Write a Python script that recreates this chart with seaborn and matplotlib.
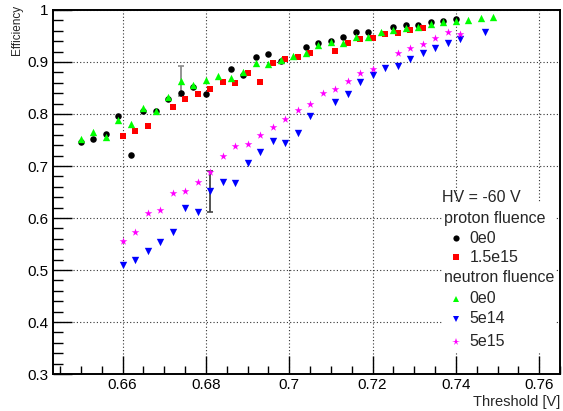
import numpy as np
import pandas as pd
import seaborn as sns
import matplotlib
matplotlib.use("Agg")
import matplotlib.pyplot as plt
from matplotlib.patches import Rectangle
from matplotlib.ticker import MultipleLocator, FixedLocator, FixedFormatter

# ---------------- data ----------------
# proton fluence 0e0 (black circles)
p0_x = [0.650, 0.653, 0.656, 0.659, 0.662, 0.665, 0.668, 0.671, 0.674, 0.677, 0.680,
        0.686, 0.689, 0.692, 0.695, 0.698, 0.704, 0.707, 0.710, 0.713, 0.716, 0.719,
        0.725, 0.728, 0.731, 0.734, 0.737, 0.740]
p0_y = [0.747, 0.752, 0.761, 0.797, 0.721, 0.806, 0.805, 0.829, 0.840, 0.851, 0.838,
        0.886, 0.875, 0.909, 0.915, 0.902, 0.929, 0.936, 0.941, 0.9475, 0.957, 0.957,
        0.9675, 0.971, 0.972, 0.976, 0.979, 0.983]

# proton fluence 1.5e15 (red squares)
p15_x = [0.660, 0.663, 0.666, 0.672, 0.675, 0.678, 0.681, 0.684, 0.687, 0.690, 0.693,
         0.696, 0.699, 0.702, 0.705, 0.711, 0.714, 0.717, 0.720, 0.723, 0.726, 0.729, 0.732]
p15_y = [0.758, 0.767, 0.776, 0.814, 0.828, 0.838, 0.849, 0.861, 0.860, 0.878, 0.862,
         0.899, 0.906, 0.909, 0.917, 0.921, 0.936, 0.944, 0.947, 0.953, 0.955, 0.962, 0.966]

# neutron fluence 0e0 (green up-triangles)
n0_x = [0.650, 0.653, 0.656, 0.659, 0.662, 0.665, 0.668, 0.671, 0.674, 0.677, 0.680,
        0.683, 0.686, 0.689, 0.692, 0.695, 0.698, 0.701, 0.704, 0.707, 0.710, 0.713,
        0.716, 0.719, 0.722, 0.725, 0.728, 0.731, 0.734, 0.737, 0.740, 0.743, 0.746, 0.749]
n0_y = [0.752, 0.765, 0.756, 0.788, 0.781, 0.811, 0.806, 0.833, 0.864, 0.855, 0.865,
        0.873, 0.869, 0.880, 0.898, 0.896, 0.903, 0.911, 0.918, 0.932, 0.939, 0.936,
        0.949, 0.949, 0.957, 0.961, 0.966, 0.968, 0.974, 0.976, 0.978, 0.981, 0.984, 0.987]

# neutron fluence 5e14 (blue down-triangles)
n514_x = [0.660, 0.663, 0.666, 0.669, 0.672, 0.675, 0.678, 0.681, 0.684, 0.687, 0.690,
          0.693, 0.696, 0.699, 0.702, 0.705, 0.711, 0.714, 0.717, 0.720, 0.723, 0.726,
          0.729, 0.732, 0.735, 0.738, 0.741, 0.747]
n514_y = [0.510, 0.519, 0.537, 0.554, 0.574, 0.620, 0.612, 0.651, 0.670, 0.667, 0.706,
          0.726, 0.749, 0.745, 0.763, 0.797, 0.823, 0.839, 0.862, 0.875, 0.888, 0.893,
          0.906, 0.917, 0.926, 0.937, 0.945, 0.958]

# neutron fluence 5e15 (magenta stars)
n515_x = [0.660, 0.663, 0.666, 0.669, 0.672, 0.675, 0.678, 0.681, 0.684, 0.687, 0.690,
          0.693, 0.696, 0.699, 0.702, 0.705, 0.708, 0.711, 0.714, 0.717, 0.720, 0.726,
          0.729, 0.732, 0.735, 0.738, 0.741]
n515_y = [0.556, 0.574, 0.610, 0.615, 0.648, 0.652, 0.670, 0.689, 0.720, 0.738, 0.742,
          0.760, 0.775, 0.791, 0.807, 0.820, 0.841, 0.849, 0.864, 0.878, 0.886, 0.917,
          0.926, 0.935, 0.946, 0.958, 0.954]

# representative error bars
err_x = [0.674, 0.681]
err_y = [0.864, 0.651]
err_e = [0.029, 0.039]
err_colors = ["#8a8a8a", "#444444"]

x_ticks = [0.66, 0.68, 0.70, 0.72, 0.74, 0.76]
x_tick_labels = ["0.66", "0.68", "0.7", "0.72", "0.74", "0.76"]
y_ticks = [0.3, 0.4, 0.5, 0.6, 0.7, 0.8, 0.9, 1.0]
y_tick_labels = ["0.3", "0.4", "0.5", "0.6", "0.7", "0.8", "0.9", "1"]

header_text = "HV = -60 V"
group_titles = ["proton fluence", "neutron fluence"]
series_labels = ["0e0", "1.5e15", "0e0", "5e14", "5e15"]

# ---------------- style ----------------
sns.set_theme(style="white")
plt.rcParams["font.family"] = ["Liberation Sans", "DejaVu Sans"]

W, H = 563, 411
fig = plt.figure(figsize=(W / 100, H / 100), dpi=100)
L, R, T, B = 53, 560, 10, 374
ax = fig.add_axes([L / W, 1 - B / H, (R - L) / W, (B - T) / H])
ax.set_facecolor("white")

series = [
    (p0_x, p0_y, "o", "black", 22),
    (p15_x, p15_y, "s", "#ff0000", 24),
    (n0_x, n0_y, "^", "#00ff00", 28),
    (n514_x, n514_y, "v", "#0000ff", 28),
    (n515_x, n515_y, "*", "#ff00ff", 34),
]

for i, (xs, ys, m, c, s) in enumerate(series):
    df = pd.DataFrame({"x": xs, "y": ys})
    sns.scatterplot(data=df, x="x", y="y", marker=m, color=c, s=s, linewidth=0,
                    ax=ax, zorder=3 + i, legend=False)

for ex, ey, ee, ec in zip(err_x, err_y, err_e, err_colors):
    ax.errorbar([ex], [ey], yerr=[ee], fmt="none", ecolor=ec, elinewidth=1.3,
                capsize=2, capthick=1.2, zorder=2.5)

ax.set_xlim(0.6433, 0.765)
ax.set_ylim(0.3, 1.0)

ax.xaxis.set_major_locator(FixedLocator(x_ticks))
ax.xaxis.set_major_formatter(FixedFormatter(x_tick_labels))
ax.yaxis.set_major_locator(FixedLocator(y_ticks))
ax.yaxis.set_major_formatter(FixedFormatter(y_tick_labels))
ax.xaxis.set_minor_locator(MultipleLocator(0.005))
ax.yaxis.set_minor_locator(MultipleLocator(0.02))

ax.tick_params(axis="both", which="both", direction="in", colors="black",
               labelsize=11, bottom=True, left=True, top=False, right=False)
ax.tick_params(axis="x", which="major", length=13, width=1.0, pad=3)
ax.tick_params(axis="x", which="minor", length=6, width=1.0)
ax.tick_params(axis="y", which="major", length=14, width=1.0, pad=3)
ax.tick_params(axis="y", which="minor", length=7, width=1.0)

ax.grid(True, which="major", color="#333333", linestyle=(0, (1, 2)), linewidth=0.8)
ax.set_axisbelow(True)

for sp in ax.spines.values():
    sp.set_visible(True)
    sp.set_color("black")
    sp.set_linewidth(1.4)

ax.set_xlabel("Threshold [V]", loc="right", fontsize=10.5)
ax.xaxis.set_label_coords(1.0, -0.057)
ax.set_ylabel("Efficiency", loc="top", fontsize=8.5)
ax.yaxis.set_label_coords(-0.06, 1.015)


def axc(px, py):
    return (px - L) / (R - L), (B - py) / (B - T)


# legend background
x0, y0 = axc(442, 353)
x1, y1 = axc(555, 203)
ax.add_patch(Rectangle((x0, y0), x1 - x0, y1 - y0, transform=ax.transAxes,
                       facecolor="white", edgecolor="none", zorder=10))

fs = 11.5
tx, ty = axc(442.5, 197.5)
ax.text(tx, ty, header_text, transform=ax.transAxes, fontsize=fs, ha="left",
        va="center", zorder=11)
for title, py in zip(group_titles, [218, 277]):
    tx, ty = axc(444, py)
    ax.text(tx, ty, title, transform=ax.transAxes, fontsize=fs, ha="left",
            va="center", zorder=11)

rows_py = [238.5, 257, 298.5, 318.5, 341.5]
for (xs, ys, m, c, s), lab, py in zip(series, series_labels, rows_py):
    mx, my = axc(456, py)
    ax.plot([mx], [my], marker=m, color=c, markersize=np.sqrt(s) * 0.95,
            markeredgewidth=0, linestyle="none", transform=ax.transAxes, zorder=11,
            clip_on=False)
    tx, ty = axc(469.5, py)
    ax.text(tx, ty, lab, transform=ax.transAxes, fontsize=fs, ha="left",
            va="center", zorder=11)

fig.savefig("out.png", dpi=100)
